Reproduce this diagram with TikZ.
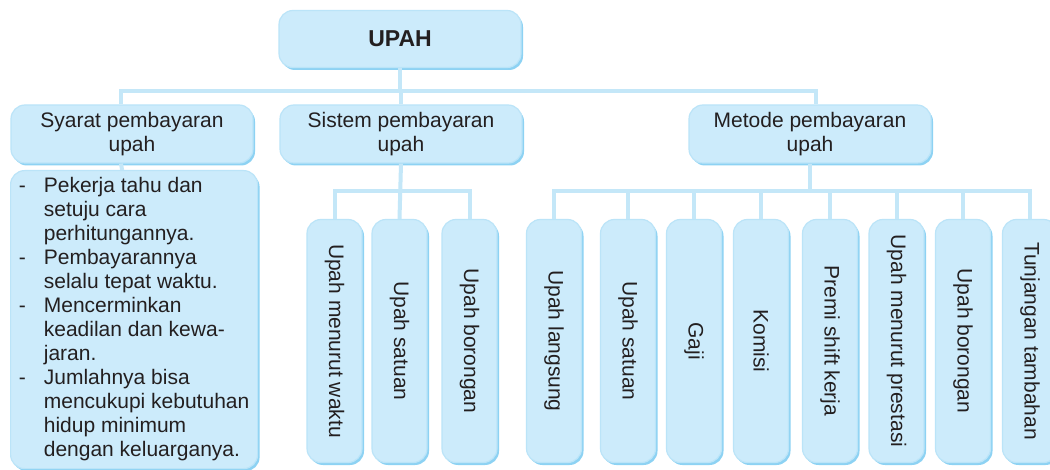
\documentclass[tikz,border=0pt]{standalone}
\usepackage{fontspec}
\setmainfont{Liberation Sans}
\usepackage{tikz}
\usetikzlibrary{calc,shadows}
\definecolor{upahisi}{HTML}{CCEBFB}
\definecolor{upahtepi}{HTML}{8DD2F3}
\definecolor{upahgaris}{HTML}{C4E7F8}
\definecolor{upahteks}{HTML}{231F20}
\tikzset{
  kotak/.style={rounded corners=14pt, fill=upahisi, draw=upahtepi!60, line width=1.2pt,
    drop shadow={shadow xshift=2pt, shadow yshift=-2.5pt, fill=upahtepi, opacity=1},
    font=\fontsize{21}{24}\selectfont, text=upahteks, inner sep=0pt, align=center},
  judul/.style={kotak, minimum width=242pt, minimum height=58pt},
  tegak/.style={kotak, minimum width=55pt, minimum height=243pt},
  garis/.style={line width=4pt, draw=upahgaris},
}

\begin{document}
\begin{tikzpicture}[x=1pt,y=1pt]
  \fill[white] (0,0) rectangle (1050,-470);
  \useasboundingbox (0,0) rectangle (1050,-470);

  \node[judul, minimum height=57pt, font=\fontsize{23}{26}\selectfont\bfseries] at (400,-39) (upah) {UPAH};
  \node[judul] at (132,-134) (syarat) {Syarat pembayaran\\upah};
  \node[judul] at (401,-134) (sistem) {Sistem pembayaran\\upah};
  \node[judul] at (810,-134) (metode) {Metode pembayaran\\upah};

  \node[kotak, anchor=north west, minimum width=247pt, minimum height=298pt, inner xsep=8pt, inner ysep=5pt, align=left] at (10,-170) (rincian) {%
    \begin{tabular}{@{}p{25pt}@{}l@{}}
    - & Pekerja tahu dan\\
      & setuju cara\\
      & perhitungannya.\\
    - & Pembayarannya\\
      & selalu tepat waktu.\\
    - & Mencerminkan\\
      & keadilan dan kewa-\\
      & jaran.\\
    - & Jumlahnya bisa\\
      & mencukupi kebutuhan\\
      & hidup minimum\\
      & dengan keluarganya.
    \end{tabular}};

  \node[tegak] at (334.5,-341) (s1) {\rotatebox{-90}{Upah menurut waktu}};
  \node[tegak] at (399.5,-341) (s2) {\rotatebox{-90}{Upah satuan}};
  \node[tegak] at (469.5,-341) (s3) {\rotatebox{-90}{Upah borongan}};

  \node[tegak] at (554,-341) (m1) {\rotatebox{-90}{Upah langsung}};
  \node[tegak] at (628,-341) (m2) {\rotatebox{-90}{Upah satuan}};
  \node[tegak] at (694,-341) (m3) {\rotatebox{-90}{Gaji}};
  \node[tegak] at (761,-341) (m4) {\rotatebox{-90}{Komisi}};
  \node[tegak] at (830,-341) (m5) {\rotatebox{-90}{Premi shift kerja}};
  \node[tegak] at (896.5,-341) (m6) {\rotatebox{-90}{Upah menurut prestasi}};
  \node[tegak] at (963,-341) (m7) {\rotatebox{-90}{Upah borongan}};
  \node[tegak] at (1030,-341) (m8) {\rotatebox{-90}{Tunjangan tambahan}};

  \coordinate (cabang) at (400,-91);
  \draw[garis] (upah.south) -- (cabang);
  \draw[garis] ($(syarat.north)+(-11,0)$) |- (cabang) -| ($(metode.north)+(6,0)$);
  \draw[garis] (sistem.north) -- (sistem.north |- cabang);
  \draw[garis] ($(syarat.south)+(-11,0)$) -- ($(rincian.north)+(-12,0)$);

  \draw[garis] (sistem.south) -- (s2.north);
  \draw[garis] (s1.north) -- ++(0,28) -| (s3.north);

  \draw[garis] (metode.south) -- ++(0,-28);
  \draw[garis] (m1.north) -- ++(0,28) -| (m8.north);
  \draw[garis] (m2.north) -- ++(0,28);
  \draw[garis] (m3.north) -- ++(0,28);
  \draw[garis] (m4.north) -- ++(0,28);
  \draw[garis] (m5.north) -- ++(0,28);
  \draw[garis] (m6.north) -- ++(0,28);
  \draw[garis] (m7.north) -- ++(0,28);
\end{tikzpicture}
\end{document}
